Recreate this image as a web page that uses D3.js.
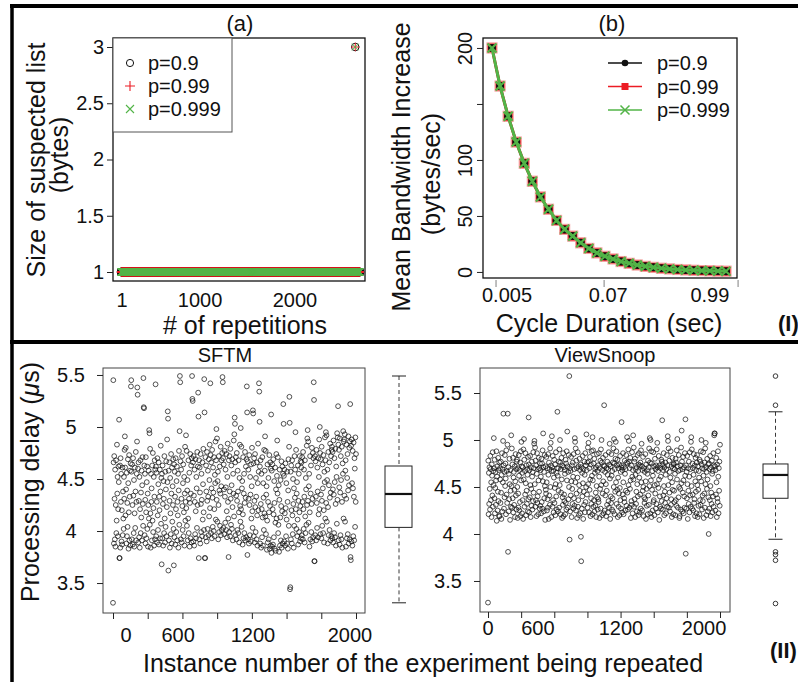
<!DOCTYPE html>
<html>
<head>
<meta charset="utf-8">
<script src="https://cdn.jsdelivr.net/npm/d3@7"></script>
<style>
  body { margin: 0; background: #fff; }
  svg text { font-family: "Liberation Sans", Arial, Helvetica, sans-serif; fill: #111; }
</style>
</head>
<body>
<div id="chart"></div>
<script>
// ---------- data ----------

// (a) size of suspected list per repetition, same for every p
const repetitionRuns = [
    { from: 1, to: 2469, size: 1 },
    { from: 2470, to: 2470, size: 3 },
    { from: 2471, to: 2520, size: 1 }
];
const probLabels = ['p=0.9', 'p=0.99', 'p=0.999'];
const sizeTicks = [1, 1.5, 2, 2.5, 3];
const repTickLabels = ['1', '1000', '2000'];
const repTickAt = [11, 834, 1835];

// (b) mean bandwidth increase per cycle duration step
const bwP09 = [200, 166, 139, 116, 97, 81, 67, 56, 46, 38, 32, 26, 21, 17, 14, 11.6, 9.3, 7.7, 6.2, 5.0, 4.1, 3.3, 2.7, 2.2, 1.8, 1.5, 1.2, 1.0, 0.8, 0.7];
const bwP099 = [200, 166, 139, 116, 97, 81, 67, 56, 46, 38, 32, 26, 21, 17, 14, 11.6, 9.3, 7.7, 6.2, 5.0, 4.1, 3.3, 2.7, 2.2, 1.8, 1.5, 1.2, 1.0, 0.8, 0.7];
const bwP0999 = [200, 166, 139, 116, 97, 81, 67, 56, 46, 38, 32, 26, 21, 17, 14, 11.6, 9.3, 7.7, 6.2, 5.0, 4.1, 3.3, 2.7, 2.2, 1.8, 1.5, 1.2, 1.0, 0.8, 0.7];
const bwTicks = [0, 50, 100, 150, 200];
const cycleTickLabels = ['0.005', '0.07', '0.99'];
const cycleTickAt = [1.86, 14.4, 27.0];
const cycleTickMarks = [0.5, 13.9, 30.5];

// (II) processing delay, hundredths of a microsecond, grouped in runs of 20 instances
const sftmDelay = [
    [331, 545, 466, 388, 472, 431, 392, 459, 385, 425, 468, 398, 410, 483, 436, 452, 395, 421, 462, 447],
    [507, 374, 374, 463, 384, 470, 428, 455, 390, 420, 387, 461, 396, 438, 412, 402, 452, 431, 478, 491],
    [461, 415, 480, 440, 388, 456, 395, 427, 404, 469, 446, 383, 418, 473, 391, 433, 458, 386, 465, 539],
    [545, 457, 392, 464, 425, 387, 470, 434, 398, 449, 385, 417, 461, 403, 438, 476, 391, 428, 455, 486],
    [538, 531, 460, 389, 466, 429, 394, 452, 384, 421, 468, 398, 437, 413, 458, 391, 444, 471, 426, 405],
    [547, 519, 518, 463, 396, 455, 430, 388, 471, 418, 393, 447, 462, 402, 436, 385, 425, 458, 412, 497],
    [494, 406, 479, 417, 384, 455, 428, 441, 391, 463, 410, 475, 399, 422, 452, 386, 433, 468, 392, 459],
    [541, 462, 395, 456, 428, 389, 470, 415, 401, 445, 466, 387, 433, 420, 459, 393, 438, 482, 407, 451],
    [368, 455, 393, 463, 426, 386, 448, 431, 398, 472, 412, 389, 457, 404, 440, 467, 395, 423, 488, 447],
    [515, 508, 362, 458, 391, 466, 429, 384, 451, 417, 397, 474, 436, 388, 461, 409, 443, 425, 469, 402],
    [367, 464, 394, 457, 433, 387, 470, 421, 399, 448, 462, 391, 428, 415, 455, 384, 439, 477, 406, 496],
    [549, 543, 467, 392, 459, 431, 389, 472, 424, 401, 446, 464, 395, 418, 452, 386, 436, 481, 410, 428],
    [492, 422, 477, 405, 439, 449, 391, 412, 468, 398, 431, 456, 385, 427, 474, 393, 436, 463, 389, 470],
    [549, 527, 525, 466, 390, 472, 434, 386, 459, 428, 397, 469, 419, 393, 452, 441, 403, 476, 425, 462],
    [533, 510, 374, 468, 392, 461, 437, 388, 474, 426, 399, 455, 430, 395, 466, 411, 445, 479, 418, 401],
    [546, 514, 374, 374, 471, 394, 463, 438, 390, 476, 429, 402, 458, 433, 396, 469, 414, 449, 483, 422],
    [542, 473, 398, 466, 441, 393, 478, 432, 404, 461, 437, 400, 471, 421, 395, 454, 446, 486, 411, 468],
    [498, 430, 489, 409, 448, 457, 392, 425, 472, 399, 439, 462, 405, 436, 481, 396, 443, 468, 401, 475],
    [548, 543, 470, 403, 464, 440, 397, 477, 433, 408, 459, 442, 401, 474, 419, 394, 452, 484, 428, 412],
    [375, 468, 399, 472, 438, 395, 479, 431, 406, 463, 444, 402, 469, 423, 391, 455, 436, 487, 414, 493],
    [509, 503, 466, 396, 471, 434, 392, 475, 429, 401, 458, 438, 398, 468, 418, 389, 451, 483, 424, 409],
    [499, 421, 481, 404, 441, 448, 387, 416, 471, 393, 436, 455, 398, 427, 476, 391, 432, 462, 394, 469],
    [539, 514, 377, 467, 392, 459, 431, 388, 473, 425, 396, 452, 435, 390, 464, 412, 443, 480, 419, 403],
    [516, 513, 465, 395, 470, 429, 389, 474, 423, 399, 451, 433, 392, 466, 415, 386, 446, 484, 420, 457],
    [542, 534, 505, 462, 388, 468, 426, 384, 455, 421, 394, 471, 413, 386, 446, 432, 401, 478, 417, 458],
    [491, 414, 477, 397, 435, 443, 382, 410, 464, 389, 428, 451, 392, 418, 473, 383, 424, 466, 386, 460],
    [512, 379, 458, 385, 464, 421, 387, 469, 416, 394, 448, 427, 383, 461, 408, 381, 440, 474, 412, 453],
    [487, 436, 471, 398, 406, 444, 380, 430, 459, 386, 413, 449, 391, 424, 467, 384, 419, 462, 388, 455],
    [522, 503, 453, 390, 459, 417, 386, 465, 422, 395, 446, 411, 388, 457, 428, 383, 439, 469, 405, 481],
    [529, 504, 344, 346, 457, 392, 463, 420, 388, 468, 415, 397, 450, 426, 384, 441, 405, 472, 432, 459],
    [495, 421, 478, 402, 436, 447, 395, 411, 463, 387, 429, 455, 399, 418, 472, 390, 424, 467, 393, 461],
    [466, 396, 471, 428, 392, 476, 421, 402, 459, 433, 389, 468, 414, 398, 451, 440, 406, 482, 425, 489],
    [497, 429, 486, 408, 443, 455, 385, 418, 472, 392, 436, 463, 399, 426, 480, 390, 431, 475, 394, 470],
    [543, 526, 371, 371, 472, 396, 467, 433, 391, 478, 427, 403, 461, 438, 394, 470, 416, 452, 488, 421],
    [500, 475, 397, 469, 435, 393, 481, 429, 405, 464, 441, 398, 473, 420, 389, 457, 447, 490, 412, 468],
    [495, 427, 492, 409, 449, 459, 388, 423, 476, 396, 444, 466, 401, 432, 484, 391, 437, 472, 395, 478],
    [481, 393, 476, 440, 389, 487, 435, 398, 470, 447, 394, 479, 426, 386, 462, 452, 407, 494, 430, 490],
    [520, 483, 391, 478, 442, 387, 489, 437, 396, 472, 449, 392, 481, 428, 384, 465, 455, 496, 412, 486],
    [488, 434, 493, 409, 458, 468, 385, 431, 483, 393, 451, 474, 397, 439, 491, 388, 444, 480, 392, 486],
    [522, 375, 372, 482, 390, 488, 446, 386, 477, 441, 395, 485, 433, 391, 470, 460, 404, 490, 428, 474]
];
const viewSnoopDelay = [
    [327, 478, 421, 465, 432, 471, 448, 426, 483, 469, 436, 455, 418, 474, 462, 441, 487, 429, 467, 452],
    [502, 470, 438, 479, 422, 449, 466, 431, 457, 488, 414, 461, 472, 425, 445, 481, 435, 468, 419, 476],
    [419, 470, 458, 433, 477, 444, 416, 463, 486, 424, 469, 455, 499, 528, 473, 427, 466, 439, 484, 451],
    [475, 459, 421, 489, 442, 467, 433, 495, 528, 381, 471, 424, 464, 437, 480, 453, 415, 468, 446, 429],
    [505, 451, 491, 428, 474, 438, 481, 423, 460, 466, 431, 447, 472, 418, 456, 485, 441, 469, 426, 477],
    [479, 450, 417, 470, 443, 428, 484, 462, 425, 468, 434, 476, 419, 488, 457, 498, 472, 422, 465, 436],
    [471, 416, 490, 458, 501, 479, 429, 467, 442, 486, 454, 420, 473, 446, 432, 469, 463, 424, 482, 437],
    [524, 474, 423, 468, 439, 483, 452, 418, 471, 448, 430, 477, 461, 426, 466, 435, 487, 444, 470, 496],
    [499, 453, 492, 429, 478, 436, 473, 419, 464, 486, 433, 440, 469, 421, 457, 481, 445, 470, 427, 475],
    [430, 468, 461, 422, 480, 434, 475, 427, 489, 456, 507, 471, 424, 466, 438, 484, 451, 415, 472, 447],
    [443, 482, 455, 425, 470, 437, 428, 485, 463, 416, 476, 441, 469, 431, 491, 450, 497, 473, 418, 467],
    [504, 471, 429, 483, 436, 467, 423, 460, 479, 433, 449, 474, 420, 453, 487, 440, 465, 426, 470, 530],
    [462, 424, 470, 446, 477, 428, 490, 452, 500, 476, 421, 469, 444, 481, 458, 417, 473, 439, 431, 486],
    [419, 471, 442, 435, 468, 464, 421, 479, 433, 475, 426, 488, 457, 509, 472, 428, 466, 437, 484, 450],
    [568, 394, 470, 424, 467, 441, 482, 456, 418, 473, 448, 432, 476, 461, 427, 485, 438, 469, 430, 502],
    [498, 455, 491, 425, 478, 443, 470, 417, 460, 487, 429, 436, 472, 420, 452, 480, 446, 468, 422, 474],
    [397, 371, 471, 427, 465, 440, 483, 454, 416, 469, 445, 431, 477, 463, 423, 486, 434, 473, 450, 506],
    [468, 442, 476, 428, 492, 453, 497, 477, 423, 470, 447, 482, 458, 419, 474, 438, 432, 488, 462, 421],
    [503, 457, 489, 429, 475, 436, 480, 424, 465, 469, 430, 444, 471, 418, 451, 485, 439, 467, 426, 473],
    [437, 434, 486, 461, 417, 470, 448, 478, 427, 490, 452, 500, 476, 420, 468, 443, 481, 456, 422, 473],
    [537, 472, 425, 466, 441, 484, 453, 419, 470, 446, 431, 477, 463, 423, 469, 435, 487, 428, 474, 496],
    [459, 416, 472, 440, 433, 485, 462, 426, 467, 438, 476, 424, 491, 450, 501, 475, 421, 469, 445, 480],
    [498, 455, 488, 432, 473, 447, 479, 418, 460, 470, 429, 443, 474, 420, 449, 483, 436, 466, 427, 471],
    [519, 473, 423, 468, 442, 486, 455, 421, 471, 438, 434, 478, 464, 425, 469, 446, 484, 430, 476, 503],
    [444, 475, 426, 490, 452, 499, 477, 428, 470, 448, 481, 457, 417, 473, 435, 431, 487, 461, 422, 468],
    [505, 458, 492, 429, 477, 437, 480, 418, 463, 469, 432, 445, 471, 424, 453, 484, 440, 467, 420, 474],
    [486, 460, 423, 473, 442, 476, 427, 489, 455, 496, 472, 425, 468, 446, 482, 450, 419, 470, 439, 433],
    [466, 437, 485, 456, 416, 474, 448, 430, 468, 464, 421, 478, 441, 471, 431, 491, 451, 502, 476, 422],
    [500, 457, 488, 418, 475, 447, 467, 425, 462, 487, 434, 436, 472, 420, 452, 480, 443, 469, 427, 473],
    [432, 490, 453, 497, 471, 423, 467, 449, 483, 458, 415, 473, 440, 429, 470, 461, 427, 479, 435, 477],
    [521, 474, 426, 468, 441, 486, 451, 420, 471, 445, 433, 476, 463, 422, 469, 438, 484, 429, 473, 504],
    [499, 452, 491, 428, 478, 444, 466, 424, 460, 488, 431, 437, 472, 418, 455, 481, 447, 470, 421, 475],
    [474, 446, 434, 469, 464, 420, 480, 436, 476, 430, 489, 458, 501, 472, 428, 467, 439, 484, 450, 417],
    [419, 468, 448, 473, 426, 492, 454, 510, 477, 424, 469, 444, 482, 457, 422, 471, 440, 428, 486, 462],
    [522, 379, 473, 427, 466, 438, 483, 453, 416, 470, 446, 432, 477, 461, 423, 487, 441, 469, 429, 498],
    [503, 451, 490, 427, 475, 442, 470, 425, 463, 485, 433, 437, 473, 419, 456, 481, 445, 468, 422, 476],
    [484, 452, 418, 472, 447, 430, 467, 460, 421, 479, 436, 477, 431, 488, 456, 500, 474, 426, 470, 441],
    [435, 487, 462, 417, 469, 443, 476, 428, 491, 453, 497, 471, 420, 466, 448, 480, 458, 424, 474, 439],
    [400, 475, 427, 469, 436, 483, 451, 419, 471, 444, 432, 478, 464, 423, 467, 440, 486, 429, 473, 505],
    [507, 507, 472, 425, 468, 442, 481, 455, 418, 474, 438, 434, 488, 461, 422, 470, 446, 477, 430, 495]
];
// box plot summaries: lower whisker, Q1, median, Q3, upper whisker
const sftmBoxStats = [3.31, 4.035, 4.356, 4.625, 5.49];
const sftmOutliers = [];
const viewSnoopBoxStats = [3.944, 4.38, 4.628, 4.745, 5.30];
const viewSnoopOutliers = [5.68, 5.37, 3.81, 3.78, 3.72, 3.26];
const delayTicks = [3.5, 4, 4.5, 5, 5.5];
const instanceTickLabels = ['0', '600', '1200', '2000'];
const sftmTickAt = [43, 214, 460, 779];
const viewSnoopTickAt = [0, 172, 458, 744];

// ---------- drawing ----------
const RED = '#ec1c24';
const GREEN = '#52b447';

const svg = d3.select('#chart').append('svg')
    .attr('width', 798)
    .attr('height', 682)
    .style('display', 'block');

svg.append('rect').attr('width', 798).attr('height', 682).attr('fill', '#fff');

const plusPath = s => `M${-s},0H${s}M0,${-s}V${s}`;
const crossPath = s => `M${-s},${-s}L${s},${s}M${-s},${s}L${s},${-s}`;

function styleAxis(sel, size) {
    sel.attr('font-size', size).attr('font-family', null);
    sel.select('.domain').remove();
    sel.selectAll('.tick line').attr('stroke', '#222').attr('stroke-width', 1);
}

function rotatedLabel(g, x, y, text, size) {
    return g.append('text')
        .attr('transform', `translate(${x},${y}) rotate(-90)`)
        .attr('text-anchor', 'middle')
        .style('font-size', size + 'px')
        .text(text);
}

// ----- panel (a) -----
function drawPanelA() {
    const g = svg.append('g');
    const x = d3.scaleLinear().domain([1, 2520]).range([121, 360]);
    const y = d3.scaleLinear().domain([0.92, 3.08]).range([281, 38]);

    const points = [];
    repetitionRuns.forEach(r => {
        for (let i = r.from; i <= r.to; i++) points.push({ rep: i, size: r.size });
    });

    g.append('g').selectAll('circle')
        .data(points)
        .join('circle')
        .attr('cx', d => x(d.rep))
        .attr('cy', d => y(d.size))
        .attr('r', 3.8)
        .attr('fill', 'none')
        .attr('stroke', '#111')
        .attr('stroke-width', 1);

    g.append('g').selectAll('path')
        .data(points)
        .join('path')
        .attr('transform', d => `translate(${x(d.rep)},${y(d.size)})`)
        .attr('d', plusPath(4.2))
        .attr('stroke', RED)
        .attr('stroke-width', 1);

    g.append('g').selectAll('path')
        .data(points)
        .join('path')
        .attr('transform', d => `translate(${x(d.rep)},${y(d.size)})`)
        .attr('d', crossPath(3.3))
        .attr('stroke', GREEN)
        .attr('stroke-width', 1);

    g.append('rect')
        .attr('x', 113).attr('y', 38).attr('width', 252).attr('height', 243)
        .attr('fill', 'none').attr('stroke', '#111').attr('stroke-width', 1.3);

    const yAxis = g.append('g')
        .attr('transform', 'translate(113,0)')
        .call(d3.axisLeft(y).tickValues(sizeTicks).tickSize(6).tickPadding(3).tickFormat(d => d));
    styleAxis(yAxis, 20);

    repTickLabels.forEach((t, i) => {
        g.append('text')
            .attr('x', x(repTickAt[i]))
            .attr('y', 307)
            .attr('text-anchor', 'middle')
            .style('font-size', '20px')
            .text(t);
    });

    // legend
    const lg = g.append('g');
    lg.append('rect')
        .attr('x', 113).attr('y', 38).attr('width', 119).attr('height', 94)
        .attr('fill', '#fff').attr('stroke', '#555').attr('stroke-width', 1);
    probLabels.forEach((label, i) => {
        const row = lg.append('g').attr('transform', `translate(130,${63 + i * 23})`);
        if (i === 0) {
            row.append('circle').attr('r', 3.6).attr('fill', 'none').attr('stroke', '#111').attr('stroke-width', 1);
        } else if (i === 1) {
            row.append('path').attr('d', plusPath(5)).attr('stroke', RED).attr('stroke-width', 1.1);
        } else {
            row.append('path').attr('d', crossPath(4)).attr('stroke', GREEN).attr('stroke-width', 1.1);
        }
        row.append('text').attr('x', 18).attr('y', 7).style('font-size', '20px').text(label);
    });

    g.append('text').attr('x', 240).attr('y', 31).attr('text-anchor', 'middle')
        .style('font-size', '22px').text('(a)');
    g.append('text').attr('x', 245).attr('y', 334).attr('text-anchor', 'middle')
        .style('font-size', '25px').text('# of repetitions');
    rotatedLabel(g, 45, 160, 'Size of suspected list', 25);
    rotatedLabel(g, 68, 155, '(bytes)', 25);
}

// ----- panel (b) -----
function drawPanelB() {
    const g = svg.append('g');
    const x = d3.scaleLinear().domain([0, 29]).range([492, 726]);
    const y = d3.scaleLinear().domain([-5.4, 208.9]).range([278, 38]);
    const line = d3.line().x((d, i) => x(i)).y(d => y(d));

    // p=0.99 red squares
    g.append('path').datum(bwP099).attr('d', line)
        .attr('fill', 'none').attr('stroke', RED).attr('stroke-width', 3);
    g.append('g').selectAll('rect')
        .data(bwP099)
        .join('rect')
        .attr('x', (d, i) => x(i) - 5)
        .attr('y', d => y(d) - 5)
        .attr('width', 10).attr('height', 10)
        .attr('fill', RED)
        .attr('stroke', '#f4a0a0').attr('stroke-width', 1.2);

    // p=0.9 black dots
    g.append('path').datum(bwP09).attr('d', line)
        .attr('fill', 'none').attr('stroke', '#111').attr('stroke-width', 2);
    g.append('g').selectAll('circle')
        .data(bwP09)
        .join('circle')
        .attr('cx', (d, i) => x(i))
        .attr('cy', d => y(d))
        .attr('r', 4)
        .attr('fill', '#111');

    // p=0.999 green crosses
    g.append('path').datum(bwP0999).attr('d', line)
        .attr('fill', 'none').attr('stroke', GREEN).attr('stroke-width', 3);
    g.append('g').selectAll('path')
        .data(bwP0999)
        .join('path')
        .attr('transform', (d, i) => `translate(${x(i)},${y(d)})`)
        .attr('d', crossPath(4.5))
        .attr('stroke', GREEN).attr('stroke-width', 2.2);

    g.append('rect')
        .attr('x', 483).attr('y', 38).attr('width', 254).attr('height', 240)
        .attr('fill', 'none').attr('stroke', '#111').attr('stroke-width', 1.3);

    const yAxis = g.append('g')
        .attr('transform', 'translate(483,0)')
        .call(d3.axisLeft(y).tickValues(bwTicks).tickSize(6).tickFormat(d => d === 150 ? '' : d));
    styleAxis(yAxis, 20);
    yAxis.selectAll('.tick text')
        .attr('transform', 'rotate(-90)')
        .attr('x', 0).attr('y', -11).attr('dy', 0)
        .attr('text-anchor', 'middle');

    cycleTickMarks.forEach(v => {
        g.append('line')
            .attr('x1', x(v)).attr('x2', x(v)).attr('y1', 280).attr('y2', 287)
            .attr('stroke', '#aaa').attr('stroke-width', 1.5);
    });
    cycleTickLabels.forEach((t, i) => {
        g.append('text')
            .attr('x', x(cycleTickAt[i])).attr('y', 302)
            .attr('text-anchor', 'middle')
            .style('font-size', '20px')
            .text(t);
    });

    // legend
    const series = [
        { label: probLabels[0], color: '#111', mark: 'dot' },
        { label: probLabels[1], color: RED, mark: 'square' },
        { label: probLabels[2], color: GREEN, mark: 'cross' }
    ];
    series.forEach((s, i) => {
        const row = g.append('g').attr('transform', `translate(0,${63 + i * 23.5})`);
        row.append('line').attr('x1', 608).attr('x2', 642).attr('stroke', s.color).attr('stroke-width', 1.6);
        if (s.mark === 'dot') {
            row.append('circle').attr('cx', 625).attr('r', 3.3).attr('fill', s.color);
        } else if (s.mark === 'square') {
            row.append('rect').attr('x', 621.5).attr('y', -3.5).attr('width', 7).attr('height', 7).attr('fill', s.color);
        } else {
            row.append('path').attr('transform', 'translate(625,0)').attr('d', crossPath(4.5))
                .attr('stroke', s.color).attr('stroke-width', 1.5);
        }
        row.append('text').attr('x', 657).attr('y', 7).style('font-size', '20px').text(s.label);
    });

    g.append('text').attr('x', 612).attr('y', 31).attr('text-anchor', 'middle')
        .style('font-size', '22px').text('(b)');
    g.append('text').attr('x', 609).attr('y', 332).attr('text-anchor', 'middle')
        .style('font-size', '25px').text('Cycle Duration (sec)');
    rotatedLabel(g, 410, 167, 'Mean Bandwidth Increase', 25);
    rotatedLabel(g, 440, 174, '(bytes/sec)', 25);

    g.append('text').attr('x', 778).attr('y', 331)
        .style('font-size', '22px').style('font-weight', 'bold').text('(I)');
}

// ----- section (II) panels -----
function drawDelayPanel(cfg) {
    const g = svg.append('g');
    const values = cfg.data.flat().map(v => v / 100);
    const x = d3.scaleLinear().domain([0, values.length - 1]).range(cfg.xRange);
    const y = d3.scaleLinear().domain(cfg.yDomain).range([cfg.box.y1, cfg.box.y0]);

    g.append('g').selectAll('circle')
        .data(values)
        .join('circle')
        .attr('cx', (d, i) => x(i))
        .attr('cy', d => y(d))
        .attr('r', 2.4)
        .attr('fill', 'none')
        .attr('stroke', '#111')
        .attr('stroke-opacity', 0.85)
        .attr('stroke-width', 0.85);

    g.append('rect')
        .attr('x', cfg.box.x0).attr('y', cfg.box.y0)
        .attr('width', cfg.box.x1 - cfg.box.x0).attr('height', cfg.box.y1 - cfg.box.y0)
        .attr('fill', 'none').attr('stroke', '#444').attr('stroke-width', 1);

    const yAxis = g.append('g')
        .attr('transform', `translate(${cfg.box.x0},0)`)
        .call(d3.axisLeft(y).tickValues(delayTicks).tickSize(6).tickFormat(d => d));
    styleAxis(yAxis, 20);
    yAxis.selectAll('.tick text').attr('text-anchor', 'middle').attr('x', cfg.labelX - cfg.box.x0);

    const tickMarks = d3.range(8).map(i => i * (values.length - 1) / 7);
    const xAxis = g.append('g')
        .attr('transform', `translate(0,${cfg.box.y1})`)
        .call(d3.axisBottom(x).tickValues(tickMarks).tickSize(6).tickFormat(''));
    styleAxis(xAxis, 20);

    instanceTickLabels.forEach((t, i) => {
        g.append('text')
            .attr('x', x(cfg.tickAt[i])).attr('y', cfg.tickBaseline)
            .attr('text-anchor', 'middle')
            .style('font-size', '20px')
            .text(t);
    });

    g.append('text').attr('x', cfg.titleX).attr('y', 362).attr('text-anchor', 'middle')
        .style('font-size', '20px').text(cfg.title);

    // box plot on the same vertical scale
    const [lo, q1, med, q3, hi] = cfg.stats;
    const bx = cfg.boxPlotX;
    const bg = g.append('g').attr('stroke', '#222').attr('fill', 'none');
    bg.append('line').attr('x1', bx.mid).attr('x2', bx.mid).attr('y1', y(hi)).attr('y2', y(q3))
        .attr('stroke-dasharray', '4,3').attr('stroke-width', 0.9);
    bg.append('line').attr('x1', bx.mid).attr('x2', bx.mid).attr('y1', y(q1)).attr('y2', y(lo))
        .attr('stroke-dasharray', '4,3').attr('stroke-width', 0.9);
    [lo, hi].forEach(v => {
        bg.append('line').attr('x1', bx.mid - bx.cap).attr('x2', bx.mid + bx.cap)
            .attr('y1', y(v)).attr('y2', y(v)).attr('stroke-width', 1);
    });
    bg.append('rect').attr('x', bx.x0).attr('y', y(q3)).attr('width', bx.x1 - bx.x0)
        .attr('height', y(q1) - y(q3)).attr('fill', '#fff').attr('stroke-width', 1);
    bg.append('line').attr('x1', bx.x0).attr('x2', bx.x1).attr('y1', y(med)).attr('y2', y(med))
        .attr('stroke-width', 2.2).attr('stroke', '#111');
    bg.selectAll('circle.out')
        .data(cfg.outliers)
        .join('circle')
        .attr('class', 'out')
        .attr('cx', bx.mid).attr('cy', d => y(d)).attr('r', 2.3)
        .attr('stroke-width', 0.9);
}

drawPanelA();
drawPanelB();

drawDelayPanel({
    title: 'SFTM', titleX: 225,
    data: sftmDelay,
    box: { x0: 103, x1: 365, y0: 368, y1: 613 },
    xRange: [113, 356],
    yDomain: [3.212, 5.567],
    labelX: 71,
    tickAt: sftmTickAt, tickBaseline: 642,
    stats: sftmBoxStats, outliers: sftmOutliers,
    boxPlotX: { x0: 385, x1: 412, mid: 399, cap: 7 }
});

drawDelayPanel({
    title: 'ViewSnoop', titleX: 605,
    data: viewSnoopDelay,
    box: { x0: 480, x1: 730, y0: 368, y1: 612 },
    xRange: [488, 720],
    yDomain: [3.17, 5.766],
    labelX: 448,
    tickAt: viewSnoopTickAt, tickBaseline: 635,
    stats: viewSnoopBoxStats, outliers: viewSnoopOutliers,
    boxPlotX: { x0: 763, x1: 788, mid: 775.5, cap: 7 }
});

// shared labels for section (II)
const lower = svg.append('g');
lower.append('text').attr('x', 423).attr('y', 672).attr('text-anchor', 'middle')
    .style('font-size', '25px').text('Instance number of the experiment being repeated');
const yl = rotatedLabel(lower, 39, 482, '', 25);
yl.append('tspan').text('Processing delay (');
yl.append('tspan').style('font-style', 'italic').text('μ');
yl.append('tspan').text('s)');
lower.append('text').attr('x', 770).attr('y', 658)
    .style('font-size', '22px').style('font-weight', 'bold').text('(II)');

// frame lines
const frame = svg.append('g').attr('stroke', '#000').attr('fill', 'none');
frame.append('line').attr('x1', 10).attr('x2', 798).attr('y1', 6).attr('y2', 6).attr('stroke-width', 4);
frame.append('line').attr('x1', 12).attr('x2', 12).attr('y1', 4).attr('y2', 682).attr('stroke-width', 3.5);
frame.append('line').attr('x1', 10).attr('x2', 798).attr('y1', 342).attr('y2', 342).attr('stroke-width', 4);
</script>
</body>
</html>
